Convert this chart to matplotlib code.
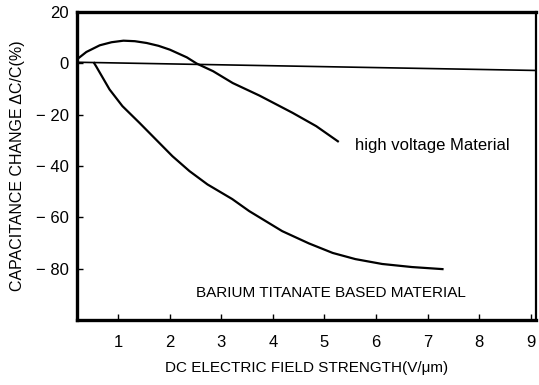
import numpy as np
import matplotlib.pyplot as plt

plt.rcParams['font.family'] = ['Liberation Sans', 'DejaVu Sans']

# high voltage material curve
hv_x = [0.19, 0.38, 0.64, 0.87, 1.10, 1.32, 1.55, 1.78, 2.00, 2.33, 2.52, 2.84,
        3.22, 3.74, 4.38, 4.84, 5.26]
hv_y = [1.4, 4.4, 7.0, 8.2, 8.8, 8.6, 7.9, 6.8, 5.3, 2.3, -0.1, -3.1,
        -7.7, -12.6, -19.3, -24.5, -30.4]

# barium titanate based material curve
bt_x = [0.53, 0.57, 0.70, 0.83, 1.08, 1.41, 1.73, 2.05, 2.38, 2.73, 3.21, 3.54,
        4.18, 4.70, 5.16, 5.60, 6.12, 6.70, 7.29]
bt_y = [0.1, -1.2, -5.7, -10.2, -16.7, -23.2, -29.7, -36.2, -42.0, -47.2, -52.9, -57.6,
        -65.4, -70.2, -73.9, -76.3, -78.2, -79.4, -80.2]

# nearly flat reference line
ref_x = [0.2, 9.1]
ref_y = [0.4, -2.8]

xticks = [1, 2, 3, 4, 5, 6, 7, 8, 9]
yticks = [20, 0, -20, -40, -60, -80]

fig = plt.figure(figsize=(5.39, 3.85), dpi=100)
ax = fig.add_axes([0.143, 0.169, 0.851, 0.80])

ax.plot(hv_x, hv_y, color='black', lw=1.6, solid_joinstyle='round')
ax.plot(bt_x, bt_y, color='black', lw=1.6, solid_joinstyle='round')
ax.plot(ref_x, ref_y, color='black', lw=1.2)

ax.set_xlim(0.2, 9.1)
ax.set_ylim(-100, 20)
ax.set_xticks(xticks)
ax.set_yticks(yticks)
ax.set_yticklabels(['20', '0', '\u2212 20', '\u2212 40', '\u2212 60', '\u2212 80'])
ax.tick_params(axis='both', direction='in', length=4, width=1, labelsize=12)
ax.tick_params(axis='x', pad=11)
ax.tick_params(axis='y', pad=6)
for s in ax.spines.values():
    s.set_linewidth(2.4)
ax.spines['right'].set_linewidth(1.6)

ax.text(5.6, -32, 'high voltage Material', fontsize=12, va='center', ha='left')
ax.text(2.5, -89.5, 'BARIUM TITANATE BASED MATERIAL', fontsize=11, va='center', ha='left')

ax.set_xlabel('DC ELECTRIC FIELD STRENGTH(V/\u03bcm)', fontsize=11, labelpad=8)
ax.set_ylabel('CAPACITANCE CHANGE \u0394C/C(%)', fontsize=11.5, labelpad=8)

fig.savefig('out.png', dpi=100)
